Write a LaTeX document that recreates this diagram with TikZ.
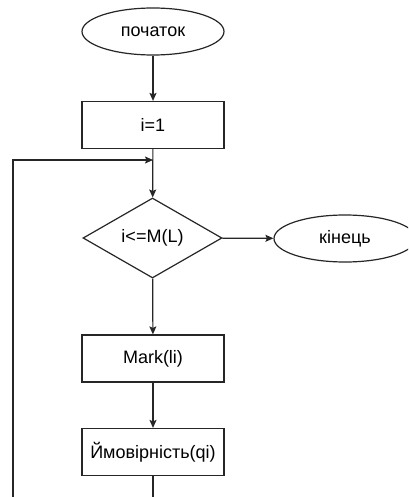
\documentclass[tikz,border=0pt]{standalone}
\usepackage{fontspec}
\setmainfont{Liberation Sans}
\usetikzlibrary{shapes.geometric,arrows.meta}
\begin{document}
\begin{tikzpicture}[x=1pt,y=-1pt,
  line width=1.2pt,
  every node/.style={font=\fontsize{18}{21}\selectfont, inner sep=0pt, draw=black!85, fill=white},
  term/.style={ellipse, minimum width=142pt, minimum height=47pt},
  proc/.style={rectangle, minimum width=142pt, minimum height=47pt},
  cond/.style={diamond, minimum width=139pt, minimum height=80pt},
  flow/.style={draw=black!85, -{Stealth[length=8pt,width=7pt,inset=1.5pt]}},
  plain/.style={draw=black!85}]
  \useasboundingbox (0,0) rectangle (408,497);
  \clip (0,0) rectangle (408,497);

  \node[term] (start) at (153,31.5) {початок};
  \node[proc] (init) at (153,125) {i=1};
  \node[cond] (check) at (152.5,238) {i<=M(L)};
  \node[term] (finish) at (345,238.5) {кінець};
  \node[proc] (mark) at (153,358.5) {Mark(li)};
  \node[proc] (prob) at (153,452) {Ймовірність(qi)};

  \coordinate (loopin) at (153,160);
  \coordinate (loopbottom) at (13,505);
  \coordinate (loopcorner) at (13,160);
  \coordinate (tail) at (153,505);

  \draw[flow] (start) -- (init);
  \draw[flow] (init) -- (check);
  \draw[flow] (check) -- (finish);
  \draw[flow] (check) -- (mark);
  \draw[flow] (mark) -- (prob);
  \draw[plain] (prob) -- (tail);
  \draw[flow] (loopbottom) -- (loopcorner) -- (loopin);
\end{tikzpicture}
\end{document}
